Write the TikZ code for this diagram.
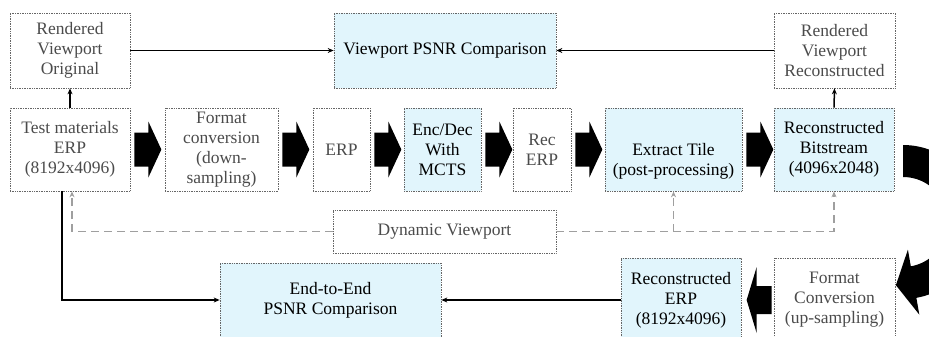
\documentclass[tikz,border=0pt]{standalone}
\usepackage{fontspec}
\setmainfont{Liberation Serif}
\usetikzlibrary{arrows.meta,calc}
\definecolor{boxblue}{RGB}{225,245,252}
\definecolor{txtgray}{RGB}{75,75,75}
\newcommand{\rblk}[1]{\fill[blk] ([xshift=4pt]#1.east) ++(0,-17) -- ++(14,0) -- ++(0,-11) -- ++(13,28) -- ++(-13,28) -- ++(0,-11) -- ++(-14,0) -- cycle;}
\begin{document}
\begin{tikzpicture}[x=1pt,y=-1pt,
  box/.style={draw=black!60, densely dotted, line width=0.7pt, inner sep=0pt, align=center, font=\fontsize{17.5}{20}\selectfont},
  gbox/.style={box, text=txtgray},
  bbox/.style={box, fill=boxblue, text=black},
  txt/.style={align=center, inner sep=0pt, font=\fontsize{17.5}{20}\selectfont},
  conn/.style={line width=1.5pt, -{Stealth[length=6pt,width=5pt]}},
  dconn/.style={draw=gray!75, line width=1.4pt, dash pattern=on 8pt off 5pt, -{Stealth[length=6pt,width=5pt]}},
  blk/.style={fill=black}
]
\useasboundingbox (0,0) rectangle (929,337);
\clip (0,0) rectangle (929,337);

% top row
\node[gbox, minimum width=120pt, minimum height=75pt] (rvo) at (70,50.5) {Rendered\\Viewport\\Original};
\node[bbox, minimum width=222pt, minimum height=75pt] (vpsnr) at (445,50.5) {Viewport PSNR Comparison};
\node[gbox, minimum width=121pt, minimum height=75pt] (rvr) at (834.5,50.5) {Rendered\\Viewport\\Reconstructed};

% middle row
\node[gbox, minimum width=120pt, minimum height=83pt] (test) at (70,149.5) {Test materials\\ERP\\(8192x4096)};
\node[gbox, minimum width=113pt, minimum height=83pt] (fmt) at (221.5,149.5) {Format\\conversion\\(down-\\sampling)};
\node[gbox, minimum width=57pt, minimum height=83pt] (erp) at (341.5,149.5) {ERP};
\node[bbox, minimum width=77pt, minimum height=83pt] (encdec) at (442.5,149.5) {Enc/Dec\\With\\MCTS};
\node[gbox, minimum width=58pt, minimum height=83pt] (recerp) at (542,149.5) {Rec\\ERP};
\node[bbox, minimum width=137pt, minimum height=83pt] (extract) at (673.5,149.5) {};
\node[txt] (extract-t) at (673.5,161) {Extract Tile\\(post-processing)};
\node[bbox, minimum width=120pt, minimum height=83pt] (rb) at (834,149.5) {Reconstructed\\Bitstream\\(4096x2048)};

% dynamic viewport
\node[gbox, minimum width=223pt, minimum height=43pt] (dv) at (444.5,231.5) {Dynamic Viewport};

% bottom row
\node[bbox, minimum width=221pt, minimum height=74pt] (e2e) at (330.5,300) {End-to-End\\PSNR Comparison};
\node[bbox, minimum width=120pt, minimum height=84pt] (recb) at (681,300) {Reconstructed\\ERP\\(8192x4096)};
\node[gbox, minimum width=121pt, minimum height=84pt] (fcup) at (834.5,300) {Format\\Conversion\\(up-sampling)};

% thin connectors
\draw[conn] (rvo.east) -- (vpsnr.west);
\draw[conn] (rvr.west) -- (vpsnr.east);
\draw[conn] (test.north) -- (rvo.south);
\draw[conn] (rb.north) -- (rvr.south);
\draw[conn] ([xshift=-8pt]test.south) |- (e2e.west);
\draw[conn, line width=1.2pt] (recb.west) -- (e2e.east);

% dashed connectors
\draw[dconn] (dv.west) -| ([xshift=2pt]test.south);
\draw[dconn] (dv.east) -| (rb.south);
\draw[dconn] (extract.south |- dv.east) -- (extract.south);

% block arrows
\rblk{test}
\rblk{fmt}
\rblk{erp}
\rblk{encdec}
\rblk{recerp}
\rblk{extract}
\fill[blk] ([xshift=-2pt]fcup.west) ++(0,-14) -- ++(-15,0) -- ++(0,-19) -- ++(-10,33) -- ++(10,33) -- ++(0,-19) -- ++(15,0) -- cycle;

% curved block arrow on the right
\fill[blk] plot[domain=-90:80, samples=60] ({903+77*cos(\x)},{222+77*sin(\x)}) -- (919.3,314.6) -- (895.9,285.2) -- (907.9,249.6) -- plot[domain=80:-90, samples=60] ({903+45*cos(\x)},{222+45*sin(\x)}) -- cycle;
\end{tikzpicture}
\end{document}
